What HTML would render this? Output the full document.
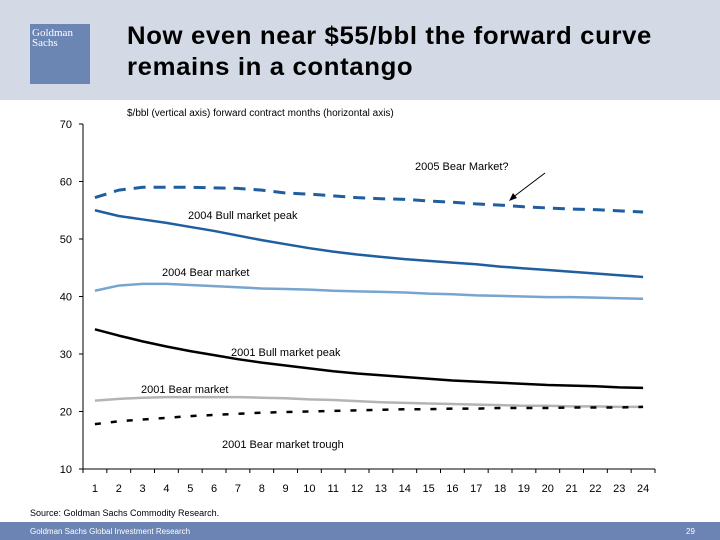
<!DOCTYPE html>
<html><head><meta charset="utf-8"><style>
body{margin:0;width:720px;height:540px;overflow:hidden;background:#fff;font-family:"Liberation Sans",Arial,sans-serif;position:relative}
.hdr{position:absolute;left:0;top:0;width:720px;height:100px;background:#d3dae6}
.logo{position:absolute;left:30px;top:24px;width:60px;height:60px;background:#6b86b3;color:#fff;font-family:"Liberation Serif",serif;font-size:11px;line-height:10px;padding:4px 2px;box-sizing:border-box}
h1{position:absolute;left:127px;top:21px;margin:0;font-size:25px;line-height:31px;font-weight:bold;color:#000;letter-spacing:0.6px;transform:scaleX(1.03);transform-origin:left}
.ftr{position:absolute;left:0;top:522px;width:720px;height:18px;background:#6b84b3;color:#fff;font-size:8px}
</style></head><body>
<div class="hdr"></div>
<div class="logo">Goldman<br>Sachs</div>
<h1>Now even near $55/bbl the forward curve<br>remains in a contango</h1>
<svg id="c" width="720" height="540" style="position:absolute;left:0;top:0"></svg>
<div class="ftr"><span style="position:absolute;left:30px;top:5px">Goldman Sachs Global Investment Research</span><span style="position:absolute;left:686px;top:5px">29</span></div>
<script>
const months=[1,2,3,4,5,6,7,8,9,10,11,12,13,14,15,16,17,18,19,20,21,22,23,24];
const yTicks=[10,20,30,40,50,60,70];
const bear2005=[57.2,58.5,59,59,59,58.9,58.8,58.5,58,57.8,57.5,57.2,57,56.9,56.6,56.4,56.1,55.9,55.6,55.4,55.2,55.1,54.9,54.7];
const bull2004=[55,54,53.4,52.8,52.1,51.4,50.6,49.8,49.1,48.4,47.8,47.3,46.9,46.5,46.2,45.9,45.6,45.2,44.9,44.6,44.3,44,43.7,43.4];
const bear2004=[41,41.9,42.2,42.2,42,41.8,41.6,41.4,41.3,41.2,41,40.9,40.8,40.7,40.5,40.4,40.2,40.1,40,39.9,39.9,39.8,39.7,39.6];
const bull2001=[34.3,33.2,32.2,31.3,30.5,29.8,29.1,28.5,28,27.5,27,26.6,26.3,26,25.7,25.4,25.2,25,24.8,24.6,24.5,24.4,24.2,24.1];
const bear2001=[21.9,22.2,22.4,22.5,22.5,22.5,22.5,22.4,22.3,22.1,22,21.8,21.6,21.5,21.4,21.3,21.2,21.1,21,21,20.9,20.9,20.8,20.8];
const trough2001=[17.8,18.3,18.6,18.9,19.2,19.4,19.6,19.8,19.9,20,20.1,20.2,20.3,20.4,20.4,20.5,20.5,20.6,20.6,20.6,20.7,20.7,20.7,20.8];
const X0=83,X1=655,Y0=469,Y1=124;
const bw=(X1-X0)/months.length;
const x=i=>X0+bw*(i+0.5);
const y=v=>Y0-(v-10)/60*(Y0-Y1);
const svg=document.getElementById('c');const NS='http://www.w3.org/2000/svg';
function mk(t,a,p){const e=document.createElementNS(NS,t);for(const k in a)e.setAttribute(k,a[k]);(p||svg).appendChild(e);return e;}
function txt(s,xx,yy,a,sz,name){const e=mk('text',{x:xx,y:yy,'text-anchor':a||'start','font-size':sz||11,fill:'#000'});e.textContent=s;

return e;}
txt('$/bbl (vertical axis) forward contract months (horizontal axis)',127,116,'start',10,'axis-subtitle');
const ax=mk('path',{d:`M${X0} ${Y1}V${Y0}H${X1}`,stroke:'#000',fill:'none','stroke-width':1});


yTicks.forEach(t=>{mk('line',{x1:X0-4,x2:X0,y1:y(t),y2:y(t),stroke:'#000'});
txt(String(t),72,y(t)+4,'end',11,'y-tick-label');});
for(let i=0;i<=months.length;i++)mk('line',{x1:X0+bw*i,x2:X0+bw*i,y1:Y0,y2:Y0+4,stroke:'#000'});
months.forEach((m,i)=>txt(String(m),x(i),492,'middle',11,'x-tick-label'));
function series(d,col,w,dash,name){const p=mk('polyline',{points:d.map((v,i)=>x(i)+','+y(v)).join(' '),fill:'none',stroke:col,'stroke-width':w,'stroke-dasharray':dash||'none','stroke-linejoin':'round'});

}
series(bear2005,'#1f5f9f',3,'12,8','line-2005-bear');
series(bull2004,'#1f5f9f',2.5,'','line-2004-bull');
series(bear2004,'#78a5cf',2.5,'','line-2004-bear');
series(bull2001,'#000',2.5,'','line-2001-bull');
series(bear2001,'#b4b4b4',2.5,'','line-2001-bear');
series(trough2001,'#000',2.5,'6,10','line-2001-trough');
txt('2005 Bear Market?',415,170,'start',11,'label-2005-bear');
const ar=mk('line',{x1:545,y1:173,x2:512,y2:198,stroke:'#000','stroke-width':1});


mk('path',{d:'M509 201 L513 193 L517 198 Z',fill:'#000'});
txt('2004 Bull market peak',188,219,'start',11,'label-2004-bull');
txt('2004 Bear market',162,276,'start',11,'label-2004-bear');
txt('2001 Bull market peak',231,356,'start',11,'label-2001-bull');
txt('2001 Bear market',141,393,'start',11,'label-2001-bear');
txt('2001 Bear market trough',222,448,'start',11,'label-2001-trough');
txt('Source: Goldman Sachs Commodity Research.',30,516,'start',9,'source-note');
</script>
</body></html>
